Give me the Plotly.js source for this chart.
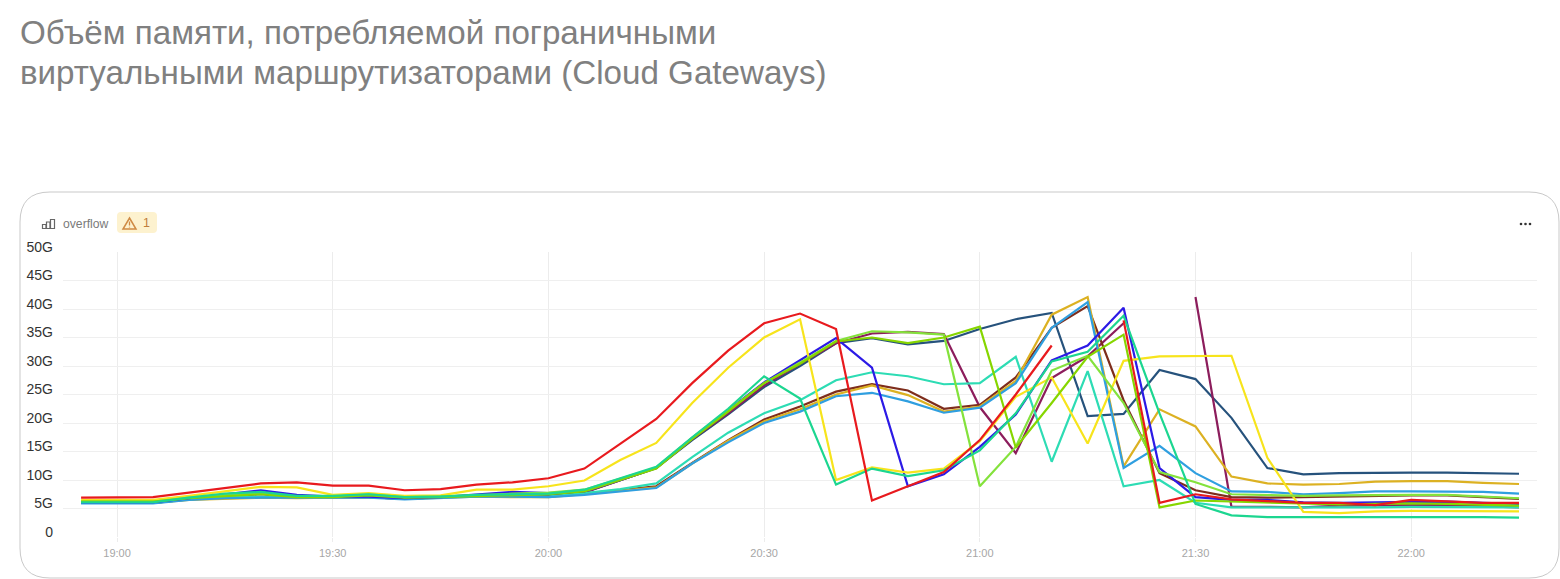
<!DOCTYPE html>
<html>
<head>
<meta charset="utf-8">
<script src="https://cdn.plot.ly/plotly-3.0.1.min.js"></script>
<style>html,body{margin:0;padding:0;background:#fff;overflow:hidden}#chart{width:1560px;height:579px}</style>
</head>
<body>
<div id="chart"></div>
<script>
const times = ["18:55","19:00","19:05","19:10","19:15","19:20","19:25","19:30","19:35","19:40","19:45","19:50","19:55","20:00","20:05","20:10","20:15","20:20","20:25","20:30","20:35","20:40","20:45","20:50","20:55","21:00","21:05","21:10","21:15","21:20","21:25","21:30","21:35","21:40","21:45","21:50","21:55","22:00","22:05","22:10","22:15"];
const navy = [6,6,6,6.7,7.2,7.5,7.1,7,7,6.7,7,7.3,7.2,7.2,7.8,9.9,12.1,17,21.5,26.3,30,34,34.9,33.8,34.4,36.5,38.2,39.3,21.2,21.6,29.3,27.7,20.9,12.1,11,11.2,11.3,11.3,11.3,11.2,11.1];
const maroon = [6,6,6,6.7,7.3,7.6,7.1,7,7.1,6.7,7,7.3,7.3,7.2,7.8,9.9,12.1,17.2,21.7,26.6,30.4,34,35.7,36,35.6,22.8,14.7,27.9,31.7,37.5,null,42.1,5.3,5.3,5.2,5.5,5.6,5.6,5.6,5.4,5.2];
const brown = [6,6,6,6.6,6.9,7,6.9,7,7,6.7,7,7.1,7.1,7.1,7.6,8.2,8.9,13,17,20.6,22.9,25.5,26.8,25.7,22.5,23.2,28,36.7,40.5,24,11.2,8.2,7,6.9,7,7.2,7.3,7.3,7.3,7,6.7];
const gold = [6,6,6,6.5,6.7,6.9,6.8,6.9,7,6.7,6.9,7.1,7,7,7.5,8.1,8.7,12.9,16.9,20.3,22.4,25,26.6,24.9,22,22.9,27.4,39,42.1,12.4,22.4,19.4,10.6,9.4,9.2,9.3,9.7,9.8,9.8,9.5,9.3];
const blue = [5.9,5.9,5.9,6.5,6.8,6.9,6.9,6.9,6.9,6.6,6.9,7.1,7.1,7,7.4,8,8.6,12.9,16.6,20,22,24.7,25.3,23.8,21.8,22.7,27,36.7,41.2,12.1,16,11.2,8,7.9,7.5,7.7,8,8,8,7.9,7.6];
const violet = [6.1,6.1,6.1,6.8,7.5,8.2,7.4,7.1,7.1,6.8,7,7.5,7.9,7.7,8,10,12.1,17.4,22.2,27.1,31,34.9,29.7,8.9,11,15.8,21.5,31,33.6,40.2,12.1,7,6.5,6.5,6.1,6,6.1,6.2,6.2,6,5.8];
const teal = [6,6,6,6.6,7,7,7,7,7.1,6.8,7,7.2,7.2,7.1,7.7,8.4,9.4,14,18.3,21.7,24,27.5,28.9,28.2,26.8,27,31.6,13.2,29.1,8.9,10,6,5.2,5.2,5.1,5.1,5.2,5.3,5.3,5.3,5.2];
const seagreen = [6.1,6.1,6.1,6.9,7.6,7.9,7.2,7.2,7.5,7,7.1,7.4,7.5,7.6,8.3,10.3,12.3,17.5,22.5,28.2,24.3,9.2,12,10.7,11.7,15.2,21.7,30.8,32.5,38.8,21.7,5.8,3.8,3.5,3.5,3.5,3.6,3.6,3.6,3.5,3.4];
const lime = [6.2,6.2,6.2,6.9,7.4,7.7,7.1,7.1,7.5,7,7.1,7.3,7.6,7.8,8.3,10.2,12.2,17.4,22.2,27,30.6,34.4,36.1,35.9,35.5,8.9,15.8,29.2,31.8,23.5,11.4,9.6,7.5,7.4,7.2,7.3,7.4,7.4,7.4,7.1,6.8];
const olive = [6.2,6.2,6.2,6.8,7.2,7.5,7,7,7.3,6.9,7,7.2,7.4,7.5,8,10,12,17.2,22,27,30.4,34.3,35,34,35,36.9,15.7,23.5,31.6,35.5,5.2,6.4,6.2,6,5.8,5.7,5.8,5.9,5.8,5.6,5.5];
const yellow = [6.5,6.5,6.5,7.2,8,8.8,8.7,7.4,7.7,7.2,7.3,8.3,8.3,8.9,9.9,13.5,16.5,23.5,29.7,35,38.2,10,12.2,11.3,12,16.8,24.6,28,16.4,30.9,31.7,31.8,31.8,13.9,4.4,4.2,4.5,4.6,4.6,4.6,4.5];
const red = [6.9,7,7,7.8,8.6,9.4,9.6,9,9,8.2,8.4,9.2,9.6,10.3,12,16.3,20.7,27,32.7,37.5,39.2,36.5,6.4,8.9,11.4,17,25,33.6,null,38,6,7.5,6.6,6.3,6,6,5.6,6.5,6.2,6,6];

const seriesList = [
  [navy, "#26527c"], [maroon, "#8c1d5c"], [brown, "#7e2d1c"], [gold, "#dcb122"],
  [teal, "#2ddcb4"], [blue, "#2f9fe0"], [violet, "#2c1ae6"], [yellow, "#f7e41c"],
  [lime, "#84e23c"], [olive, "#86d600"], [seagreen, "#1cd690"], [red, "#e81a1e"]
];
const yTickVals = [0,5,10,15,20,25,30,35,40,45,50];
const yTickText = ["0","5G","10G","15G","20G","25G","30G","35G","40G","45G","50G"];
const xTickTimes = ["19:00","19:30","20:00","20:30","21:00","21:30","22:00"];
const titleLine1 = "Объём памяти, потребляемой пограничными";
const titleLine2 = "виртуальными маршрутизаторами (Cloud Gateways)";
const day = "2024-01-01 ";

const traces = seriesList.map(([vals, color]) => ({
  x: times.map(t => day + t + ":00"), y: vals, type: "scatter", mode: "lines",
  connectgaps: false, line: {color: color, width: 2.2}, hoverinfo: "skip"
}));

// Plot rectangle in page pixels; helpers place decoration by page pixel.
const L = 63, R = 1537, T = 252, B = 537;
const px = x => (x - L) / (R - L);
const py = y => (B - y) / (B - T);
const P = (x, y) => px(x) + "," + py(y);
const paper = {xref: "paper", yref: "paper"};
const font = "Liberation Sans, Arial, sans-serif";

const card = "M" + P(50,192) + " L" + P(1529,192) + " Q" + P(1559,192) + " " + P(1559,222) +
  " L" + P(1559,548) + " Q" + P(1559,578) + " " + P(1529,578) + " L" + P(50,578) +
  " Q" + P(20,578) + " " + P(20,548) + " L" + P(20,222) + " Q" + P(20,192) + " " + P(50,192) + " Z";
const badge = "M" + P(121,212) + " L" + P(153,212) + " Q" + P(157,212) + " " + P(157,216) +
  " L" + P(157,229) + " Q" + P(157,233) + " " + P(153,233) + " L" + P(121,233) +
  " Q" + P(117,233) + " " + P(117,229) + " L" + P(117,216) + " Q" + P(117,212) + " " + P(121,212) + " Z";
const tri = "M" + P(129.5,218) + " L" + P(136,229) + " L" + P(123,229) + " Z";
const warnMark = "M" + P(129.5,221.5) + " L" + P(129.5,225.5) + " M" + P(129.5,226.8) + " L" + P(129.5,227.6);
const bars = ["M" + P(42.5,224.5) + " L" + P(46,224.5) + " L" + P(46,228.5) + " L" + P(42.5,228.5) + " Z",
  "M" + P(46.5,222) + " L" + P(50,222) + " L" + P(50,228.5) + " L" + P(46.5,228.5) + " Z",
  "M" + P(50.5,219.5) + " L" + P(54.5,219.5) + " L" + P(54.5,228.5) + " L" + P(50.5,228.5) + " Z"];

const shapes = [
  {type:"path", ...paper, path:card, line:{color:"#c9c9c9", width:1}, fillcolor:"rgba(0,0,0,0)", layer:"below"},
  {type:"path", ...paper, path:badge, line:{width:0}, fillcolor:"#fdf2cf", layer:"below"},
  {type:"path", ...paper, path:tri, line:{color:"#cf8a44", width:1.5}, fillcolor:"rgba(0,0,0,0)"},
  {type:"path", ...paper, path:warnMark, line:{color:"#cf8a44", width:1.3}},
  ...bars.map(b => ({type:"path", ...paper, path:b, line:{color:"#666", width:1.2}, fillcolor:"rgba(0,0,0,0)"})),
  ...[1521,1525.5,1530].map(cx => ({type:"circle", ...paper, x0:px(cx-1.3), x1:px(cx+1.3), y0:py(224+1.3), y1:py(224-1.3),
     fillcolor:"#333", line:{width:0}}))
];

const annotations = [
  {...paper, x:px(20), y:py(72), xanchor:"left", yanchor:"middle", showarrow:false, borderpad:0, borderwidth:0, text:titleLine2,
   font:{family:font, size:33.15, color:"#808080"}},
  {...paper, x:px(61), y:py(224), xanchor:"left", yanchor:"middle", showarrow:false, text:"overflow",
   font:{family:font, size:12.2, color:"#7a7a7a"}},
  {...paper, x:px(140.5), y:py(223), xanchor:"left", yanchor:"middle", showarrow:false, text:"1",
   font:{family:font, size:12.5, color:"#c07f3c"}}
];

const layout = {
  width: 1560, height: 579,
  margin: {l: L, r: 1560 - R, t: T, b: 579 - B, pad: 0},
  paper_bgcolor: "#fff", plot_bgcolor: "#fff", showlegend: false,
  title: {text: titleLine1,
    x: 20/1560, xanchor: "left", xref: "container", y: 1 - 32/579, yanchor: "middle", yref: "container",
    font: {family: font, size: 33.15, color: "#808080"}},
  xaxis: {type: "date", range: [day + "18:52:29", day + "22:17:30"], tickmode: "array",
    tickvals: xTickTimes.map(t => day + t + ":00"), ticktext: xTickTimes,
    showgrid: true, gridcolor: "#ececec", gridwidth: 1, zeroline: false, showline: false,
    ticks: "outside", ticklen: 4, tickcolor: "#ececec", tickwidth: 1, ticklabelstandoff: 2,
    tickfont: {family: font, size: 11, color: "#a6a6a6"}},
  yaxis: {range: [0, 50], tickmode: "array", tickvals: yTickVals, ticktext: yTickText,
    showgrid: true, gridcolor: "#efefef", gridwidth: 1, zeroline: false, showline: false,
    ticks: "", ticklabelshift: -5, ticklabelstandoff: 9,
    tickfont: {family: font, size: 14, color: "#333"}},
  shapes: shapes, annotations: annotations
};
Plotly.newPlot("chart", traces, layout, {displayModeBar: false, staticPlot: true});
</script>
</body>
</html>
